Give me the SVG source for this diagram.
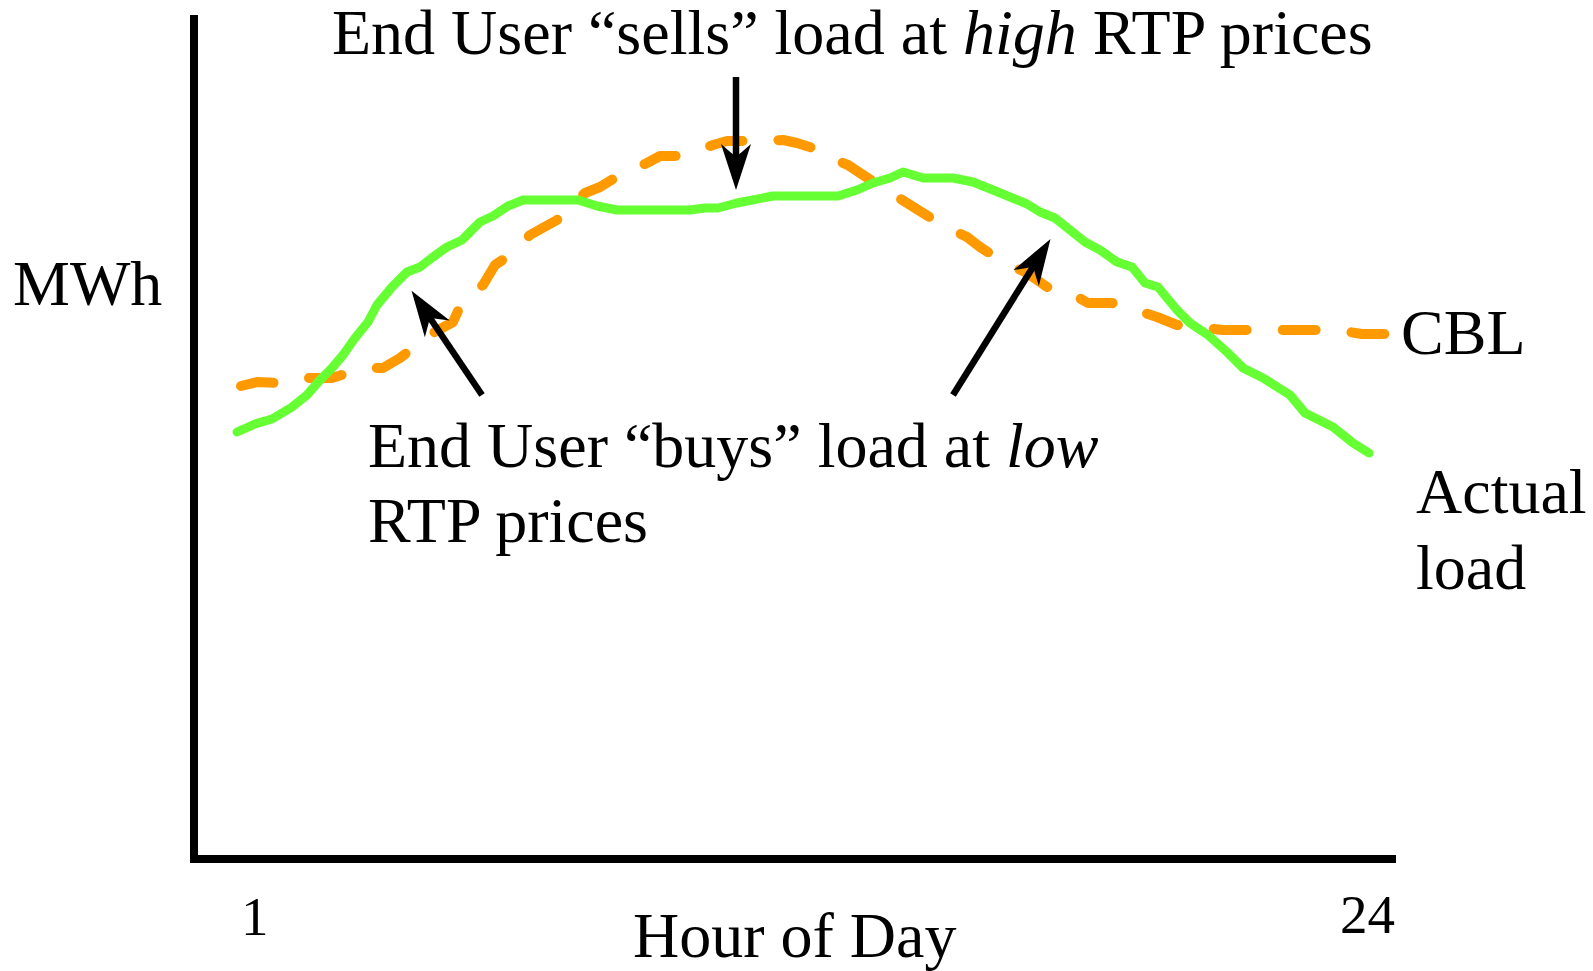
<svg xmlns="http://www.w3.org/2000/svg" width="1593" height="971" viewBox="0 0 1593 971">
  <style>
    .t { font-family: "Liberation Serif", "Times New Roman", serif; font-size: 64px; fill: #000; }
    .n { font-size: 55px; }
    .i { font-style: italic; }
    .axis { stroke: #000; stroke-width: 8; fill: none; }
    .cbl { stroke: #ff9900; stroke-width: 10; fill: none; stroke-dasharray: 33 36; stroke-linecap: round; stroke-linejoin: round; }
    .act { stroke: #66ff33; stroke-width: 9; fill: none; stroke-linecap: round; stroke-linejoin: round; }
    .arr { stroke: #000; stroke-width: 6.5; fill: none; marker-end: url(#head); }
  </style>
  <defs>
    <marker id="head" markerUnits="userSpaceOnUse" orient="auto" refX="0" refY="0" markerWidth="60" markerHeight="40" viewBox="-20 -20 60 40" overflow="visible">
      <path d="M33,0 L-13,-15 L0,0 L-13,15 Z" fill="#000"/>
    </marker>
  </defs>
  <rect width="1593" height="971" fill="#fff"/>

  <g id="axes">
    <line class="axis" x1="194" y1="15" x2="194" y2="863"/>
    <line class="axis" x1="190" y1="859" x2="1396" y2="859"/>
  </g>

  <g id="cbl-curve">
    <polyline class="cbl" points="241,386 257,382 280,383 305,378 332,378 348,373 375,368 383,368 400,358 413,348 433,333 453,322 462,302 483,285 495,265 510,255 530,235 557,220 567,210 585,193 600,187 623,173 647,163 660,156 675,156 688,153 713,145 727,141 757,141 783,140 797,143 813,148 823,155 848,165 863,175 883,188 907,203 923,213 942,225 967,237 980,247 1003,262 1027,273 1047,287 1065,290 1088,303 1112,303 1130,308 1157,317 1177,325 1197,327 1223,330 1267,330 1293,330 1337,330 1362,334 1386,334"/>
  </g>

  <g id="actual-curve">
    <polyline class="act" points="237,432 255,424 272,419 292,407 307,395 320,380 332,368 343,355 355,338 368,322 377,305 392,287 407,272 420,267 433,257 447,247 462,240 480,222 493,216 508,206 523,200 578,200 597,206 617,210 690,210 705,208 718,208 737,203 773,196 838,196 857,190 873,183 890,178 903,172 923,178 953,178 973,182 993,190 1010,197 1027,204 1040,212 1055,218 1070,230 1085,242 1100,250 1117,262 1132,267 1145,283 1158,287 1177,310 1190,323 1208,335 1228,353 1243,368 1263,378 1290,395 1305,413 1333,427 1353,443 1369,453"/>
  </g>

  <g id="connectors">
    <line class="arr" x1="736" y1="77" x2="736" y2="157"/>
    <line class="arr" x1="482" y1="395" x2="430" y2="318"/>
    <line class="arr" x1="953" y1="395" x2="1033" y2="267"/>
  </g>

  <g id="label-sells">
    <text class="t" x="332" y="54">End User “sells” load at <tspan class="i">high</tspan> RTP prices</text>
  </g>
  <g id="label-buys">
    <text class="t" x="368" y="467">End User “buys” load at <tspan class="i">low</tspan></text>
    <text class="t" x="368" y="542">RTP prices</text>
  </g>
  <g id="label-mwh">
    <text class="t" x="13" y="305">MWh</text>
  </g>
  <g id="label-cbl">
    <text class="t" x="1401" y="354">CBL</text>
  </g>
  <g id="label-actual">
    <text class="t" x="1416" y="513">Actual</text>
    <text class="t" x="1416" y="589">load</text>
  </g>
  <g id="label-xaxis">
    <text class="t n" x="241" y="935">1</text>
    <text class="t n" x="1340" y="933">24</text>
    <text class="t" x="633" y="957">Hour of Day</text>
  </g>
</svg>
